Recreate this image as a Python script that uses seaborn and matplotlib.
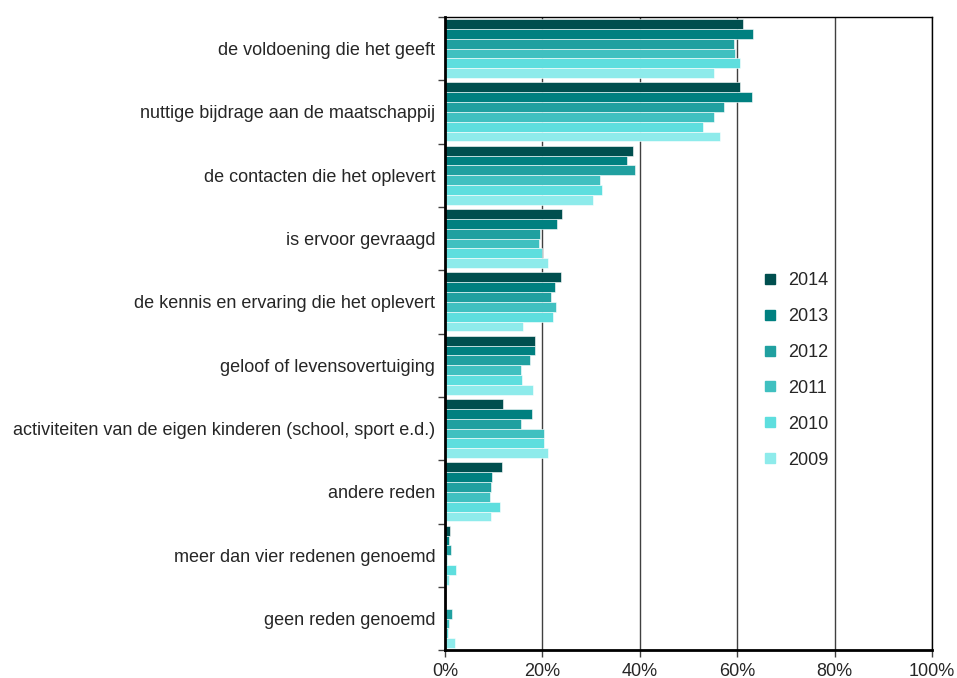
# -*- coding: utf-8 -*-
# Redenen voor vrijwilligerswerk, 2009-2014 (horizontale gegroepeerde staven)

import pandas as pd
import matplotlib.pyplot as plt
import matplotlib.ticker as ticker
from matplotlib.lines import Line2D
import seaborn as sns
import numpy as np

# data (percentages)
categories = [
    'de voldoening die het geeft',
    'nuttige bijdrage aan de maatschappij',
    'de contacten die het oplevert',
    'is ervoor gevraagd',
    'de kennis en ervaring die het oplevert',
    'geloof of levensovertuiging',
    'activiteiten van de eigen kinderen (school, sport e.d.)',
    'andere reden',
    'meer dan vier redenen genoemd',
    'geen reden genoemd',
]
years = ['2014', '2013', '2012', '2011', '2010', '2009']

v2014 = [61.2, 60.6, 38.5, 24.1, 23.8, 18.4, 12.0, 11.8, 1.0, 0.3]
v2013 = [63.3, 63.1, 37.4, 23.0, 22.5, 18.4, 17.9, 9.6, 0.8, 0.2]
v2012 = [59.4, 57.3, 39.1, 19.5, 21.8, 17.5, 15.5, 9.4, 1.2, 1.5]
v2011 = [59.6, 55.2, 31.9, 19.3, 22.7, 15.5, 20.3, 9.2, 0.5, 0.8]
v2010 = [60.5, 53.0, 32.2, 19.9, 22.1, 15.9, 20.3, 11.3, 2.2, 0.7]
v2009 = [55.2, 56.5, 30.3, 21.2, 16.1, 18.0, 21.2, 9.5, 0.8, 2.0]

series = {'2014': v2014, '2013': v2013, '2012': v2012,
          '2011': v2011, '2010': v2010, '2009': v2009}

rows = []
for yr, vals in series.items():
    for cat, v in zip(categories, vals):
        rows.append({'reden': cat, 'jaar': yr, 'pct': v})
df = pd.DataFrame(rows)

palette = ['#004F4F', '#008080', '#20A0A0', '#40C0C0', '#5EDEDE', '#8EEBEB']

sns.set_theme(style="white")
plt.rcParams['font.family'] = ['Liberation Sans', 'DejaVu Sans']

fig, ax = plt.subplots(figsize=(9.57, 6.78), dpi=100)
fig.subplots_adjust(left=0.465, right=0.974, top=0.975, bottom=0.041)

sns.barplot(data=df, y='reden', x='pct', hue='jaar', order=categories,
            hue_order=years, palette=palette, orient='h', width=0.93,
            edgecolor='white', linewidth=0.4, saturation=1, legend=False,
            ax=ax)

ax.set_xlim(0, 100)
ax.set_ylim(len(categories) - 0.5, -0.5)
ax.xaxis.set_major_locator(ticker.MultipleLocator(20))
ax.xaxis.set_major_formatter(ticker.StrMethodFormatter('{x:.0f}%'))
ax.grid(axis='x', color='#404040', linewidth=1.0)
ax.set_axisbelow(True)

# category separators as minor ticks on the left
ax.set_yticks(np.arange(len(categories) + 1) - 0.5, minor=True)
ax.tick_params(axis='y', which='major', length=0, labelsize=13, pad=7)
ax.tick_params(axis='y', which='minor', length=5, width=1, direction='out',
               color='#404040', left=True)
ax.tick_params(axis='x', which='major', length=5, width=1, direction='out',
               color='#404040', labelsize=13, bottom=True, pad=4)

for side in ['left', 'bottom']:
    ax.spines[side].set_linewidth(2)
    ax.spines[side].set_color('black')
for side in ['top', 'right']:
    ax.spines[side].set_linewidth(1)
    ax.spines[side].set_color('black')

ax.set_xlabel('')
ax.set_ylabel('')

# square legend markers, like the original
handles = [Line2D([], [], marker='s', linestyle='', markersize=7,
                  markerfacecolor=c, markeredgecolor=c) for c in palette]
ax.legend(handles, years, loc='upper left', bbox_to_anchor=(0.625, 0.623),
          frameon=False, fontsize=13, handlelength=0.5,
          labelspacing=1.05, handletextpad=0.75)

plt.savefig('out.png', dpi=100)
